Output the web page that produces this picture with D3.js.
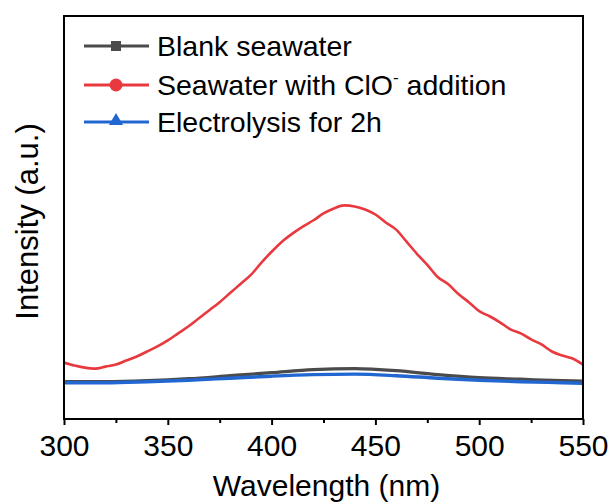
<!DOCTYPE html>
<html>
<head>
<meta charset="utf-8">
<script src="https://cdn.jsdelivr.net/npm/d3@7"></script>
<style>
  html, body { margin: 0; padding: 0; background: #fff; }
  svg { display: block; font-family: "Liberation Sans", Arial, sans-serif; }
</style>
</head>
<body>
<svg id="chart" width="611" height="504"></svg>
<script>
// ---- data ----
const wavelengthsRed = [300,305,310,315,320,325,330,335,340,345,350,355,360,365,370,375,380,385,390,395,400,405,410,415,420,425,430,435,440,445,450,455,460,465,470,475,480,485,490,495,500,505,510,515,520,525,530,535,540,545,550];
const clOAddition = [56,53,51,50,52,54,58,62,67,72,78,85,92,100,108,116,125,134,143,155,166,176,184,191,197,204,209,212,211,208,203,195,188,176,164,153,141,134,124,116,107,102,96,89,85,79,74,67,63,60,54];
const wavelengthsLow = [300,320,340,360,380,400,420,440,460,480,500,520,540,550];
const blankSeawater = [37,37,38,40,43,46,49,50,48,44,41,39.5,38,37.5];
const electrolysis2h = [36,36,37,38.5,40.5,42.5,44,44.5,43,40.5,38.5,37,36,35.5];
const xTicks = [300,350,400,450,500,550];
const xMinorTicks = [325,375,425,475,525];
const legendLabels = ["Blank seawater", "Seawater with ClO", "Electrolysis for 2h"];

// ---- layout ----
const svg = d3.select("#chart");
const L = 64, R = 583, T = 16, B = 419;
const x = d3.scaleLinear().domain([300, 550]).range([L, R]);
const y = d3.scaleLinear().domain([0, 400]).range([B, T]);

const colors = { black: "#4b4b4b", red: "#e8393f", blue: "#2166d1" };

const line = d3.line().x(d => x(d[0])).y(d => y(d[1])).curve(d3.curveMonotoneX);

const series = [
  { xs: wavelengthsLow, ys: blankSeawater, color: colors.black, w: 3.2 },
  { xs: wavelengthsRed, ys: clOAddition, color: colors.red, w: 2.6 },
  { xs: wavelengthsLow, ys: electrolysis2h, color: colors.blue, w: 3.4 }
];

const plot = svg.append("g");
svg.append("clipPath").attr("id", "clip").append("rect")
  .attr("x", L).attr("y", T).attr("width", R - L).attr("height", B - T);
series.forEach(s => {
  plot.append("path")
    .datum(s.xs.map((v, i) => [v, s.ys[i]]))
    .attr("d", line)
    .attr("fill", "none")
    .attr("stroke", s.color)
    .attr("stroke-width", s.w)
    .attr("stroke-linejoin", "round")
    .attr("clip-path", "url(#clip)");
});

// frame
svg.append("rect").attr("x", L).attr("y", T).attr("width", R - L).attr("height", B - T)
  .attr("fill", "none").attr("stroke", "#000").attr("stroke-width", 2);

// x axis
const xAxis = d3.axisBottom(x).tickValues(xTicks).tickSize(6).tickPadding(10).tickFormat(d3.format("d"));
const gx = svg.append("g").attr("transform", `translate(0,${B})`).call(xAxis);
gx.select(".domain").remove();
gx.selectAll(".tick line").attr("stroke", "#000").attr("stroke-width", 2);
gx.selectAll(".tick text").attr("font-size", 30).attr("fill", "#000")
  .attr("font-family", "Liberation Sans, Arial, sans-serif");
const gxm = svg.append("g").attr("transform", `translate(0,${B})`)
  .call(d3.axisBottom(x).tickValues(xMinorTicks).tickSize(4).tickFormat(""));
gxm.select(".domain").remove();
gxm.selectAll(".tick line").attr("stroke", "#000").attr("stroke-width", 2);

// axis titles
svg.append("text").attr("x", (L + R) / 2 + 3).attr("y", 496).attr("text-anchor", "middle")
  .attr("font-size", 30).attr("fill", "#000").text("Wavelength (nm)");
svg.append("text").attr("transform", `translate(38,${(T + B) / 2 + 4}) rotate(-90)`)
  .attr("text-anchor", "middle").attr("font-size", 31).attr("fill", "#000").text("Intensity (a.u.)");

// legend
const legendY = [46, 85, 122];
const legendColors = [colors.black, colors.red, colors.blue];
const lg = svg.append("g");
legendLabels.forEach((lab, i) => {
  const g = lg.append("g").attr("transform", `translate(0,${legendY[i]})`);
  g.append("line").attr("x1", 84).attr("x2", 149).attr("y1", 0).attr("y2", 0)
    .attr("stroke", legendColors[i]).attr("stroke-width", 3);
  if (i === 0) {
    g.append("rect").attr("x", 111).attr("y", -5).attr("width", 10).attr("height", 10).attr("fill", legendColors[i]);
  } else if (i === 1) {
    g.append("circle").attr("cx", 116).attr("cy", 0).attr("r", 6.5).attr("fill", legendColors[i]);
  } else {
    g.append("path").attr("d", d3.symbol().type(d3.symbolTriangle).size(85)).attr("transform", "translate(116,-1)")
      .attr("fill", legendColors[i]);
  }
  const t = g.append("text").attr("x", 157).attr("y", 10).attr("font-size", 28.5).attr("fill", "#000").text(lab);
  if (i === 1) {
    t.append("tspan").attr("font-size", 17).attr("dy", -12).text("-");
    t.append("tspan").attr("dy", 12).text(" addition");
  }
});
</script>
</body>
</html>
